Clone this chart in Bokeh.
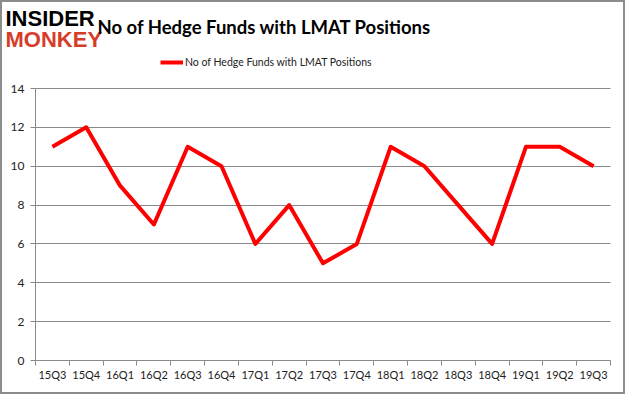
from bokeh.plotting import figure
from bokeh.models import Range1d, FixedTicker, Label, ColumnDataSource, Legend, LegendItem
from bokeh.embed import file_html
from bokeh.resources import INLINE

quarters = ["15Q3", "15Q4", "16Q1", "16Q2", "16Q3", "16Q4", "17Q1", "17Q2", "17Q3",
            "17Q4", "18Q1", "18Q2", "18Q3", "18Q4", "19Q1", "19Q2", "19Q3"]
funds = [11, 12, 9, 7, 11, 10, 6, 8, 5, 6, 11, 10, 8, 6, 11, 11, 10]
y_ticks = [0, 2, 4, 6, 8, 10, 12, 14]
y_max = 14
series_name = "No of Hedge Funds with LMAT Positions"
title_text = "No of Hedge Funds with LMAT Positions"
logo_top = "INSIDER"
logo_bottom = "MONKEY"

# page layout (pixels)
W, H = 625, 394
PLOT_L, PLOT_R, PLOT_T, PLOT_B = 35, 610, 88, 360
GRAY = "#898989"

n = len(quarters)
px_per_x = (PLOT_R - PLOT_L) / n
px_per_y = (PLOT_B - PLOT_T) / y_max
x_start = -0.5 - PLOT_L / px_per_x
x_end = n - 0.5 + (W - PLOT_R) / px_per_x
y_start = -(H - PLOT_B) / px_per_y
y_end = PLOT_B / px_per_y

idx = list(range(n))
src = ColumnDataSource(dict(x=idx, y=funds))

p = figure(width=W, height=H, output_backend="svg", toolbar_location=None,
           x_range=Range1d(x_start, x_end), y_range=Range1d(y_start, y_end),
           min_border=0)
p.outline_line_color = "#8c8c8c"
p.outline_line_width = 3
p.background_fill_color = "white"
p.border_fill_color = "white"

r = p.line("x", "y", source=src, line_color="#ff0000", line_width=4, line_join="round")

xa = p.xaxis[0]
xa.fixed_location = 0
xa.bounds = (-0.5, n - 0.5)
xa.ticker = FixedTicker(ticks=idx, minor_ticks=[i - 0.5 for i in range(n + 1)])
xa.major_label_overrides = {i: q for i, q in enumerate(quarters)}
xa.major_tick_out = 0
xa.major_tick_in = 0
xa.minor_tick_out = 5
xa.minor_tick_in = 0
xa.minor_tick_line_color = GRAY
xa.axis_line_color = GRAY
xa.major_label_text_font = "Lato"
xa.major_label_text_font_size = "11px"
xa.major_label_text_color = "#222222"
xa.major_label_standoff = 2

ya = p.yaxis[0]
ya.fixed_location = -0.5
ya.bounds = (0, y_max)
ya.ticker = FixedTicker(ticks=y_ticks)
ya.minor_tick_line_color = None
ya.major_tick_out = 5
ya.major_tick_in = 0
ya.major_tick_line_color = GRAY
ya.axis_line_color = GRAY
ya.major_label_text_font = "Lato"
ya.major_label_text_font_size = "12px"
ya.major_label_text_color = "#222222"
ya.major_label_standoff = 6

p.xgrid.grid_line_color = None
yg = p.ygrid[0]
yg.grid_line_color = GRAY
yg.ticker = FixedTicker(ticks=y_ticks[1:])
if "cross_bounds" in yg.properties():
    yg.cross_bounds = (-0.5, n - 0.5)

# header texts (screen units: from frame bottom-left, frame = whole canvas)
p.add_layout(Label(x=5, y=H - 17.5, x_units="screen", y_units="screen", text=logo_top,
                   text_font="Liberation Sans", text_font_style="bold", text_font_size="22px",
                   text_baseline="middle", text_color="black"))
p.add_layout(Label(x=5, y=H - 38.5, x_units="screen", y_units="screen", text=logo_bottom,
                   text_font="Liberation Sans", text_font_style="bold", text_font_size="22px",
                   text_baseline="middle", text_color="#d63c2a"))
p.add_layout(Label(x=97, y=H - 26, x_units="screen", y_units="screen", text=title_text,
                   text_font="Lato", text_font_style="bold", text_font_size="18.5px",
                   text_baseline="middle", text_color="black"))

legend = Legend(items=[LegendItem(label=series_name, renderers=[r])],
                location=(160, H - 69), orientation="horizontal",
                label_text_font="Lato", label_text_font_size="10.5px", label_text_color="#222222",
                glyph_width=23, glyph_height=14, label_standoff=2, padding=0, margin=0,
                border_line_color=None, background_fill_alpha=0)
p.add_layout(legend)

open("out.html", "w").write(file_html(p, INLINE))
